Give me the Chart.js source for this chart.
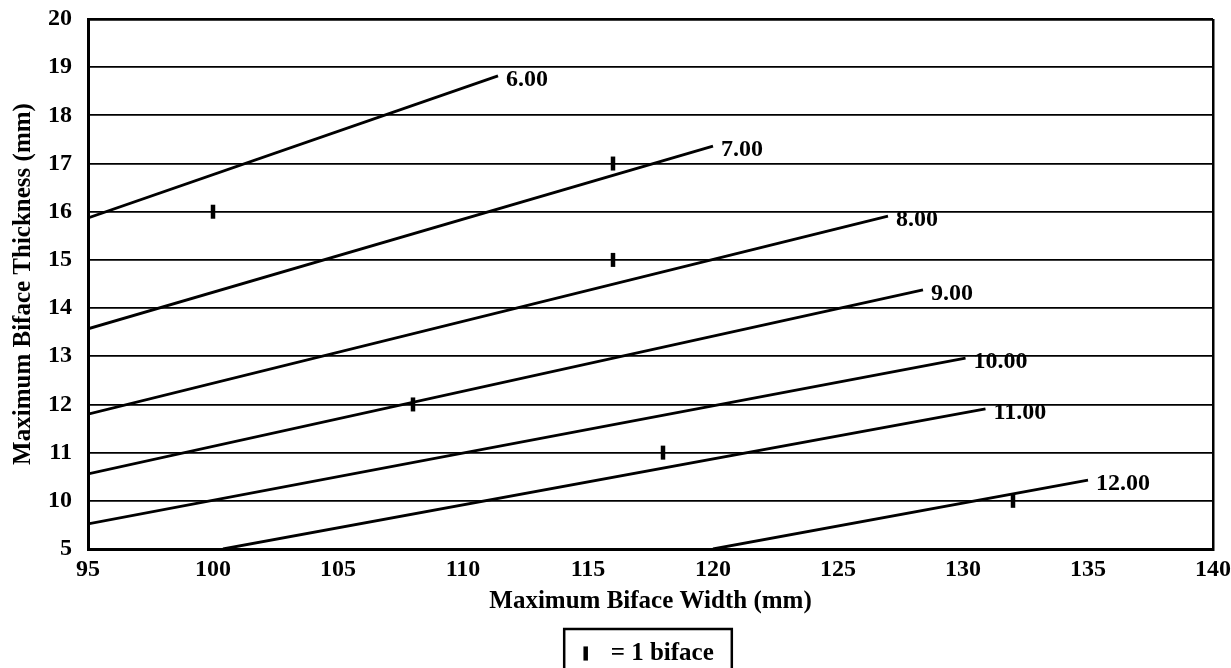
<!DOCTYPE html>
<html>
<head>
<meta charset="utf-8">
<script src="https://cdn.jsdelivr.net/npm/chart.js@4.4.1/dist/chart.umd.min.js"></script>
<style>
  html, body { margin: 0; padding: 0; background: #fff; overflow: hidden; }
  #wrap { width: 1231px; height: 668px; overflow: hidden; }
</style>
</head>
<body>
<div id="wrap"><canvas id="chart" width="1231" height="676"></canvas></div>
<script>
// width/thickness ratio lines (start and end points)
const ratioLabels = ['6.00', '7.00', '8.00', '9.00', '10.00', '11.00', '12.00'];
const lineStartX = [95, 95, 95, 95, 95, 100.4, 120];
const lineStartY = [15.87, 13.57, 11.80, 10.56, 9.52, 9, 9];
const lineEndX = [111.4, 120.0, 127.0, 128.4, 130.1, 130.9, 135];
const lineEndY = [18.82, 17.36, 15.91, 14.38, 12.96, 11.91, 10.43];

// individual bifaces
const bifaceWidth = [100, 116, 116, 108, 118, 132];
const bifaceThickness = [16, 17, 15, 12, 11, 10];

// y axis is broken: the bottom position (9) is labelled 5
const yTickLabels = { 9: '5' };

const serif = "'Liberation Serif', 'Times New Roman', serif";

const datasets = ratioLabels.map((lbl, i) => ({
    type: 'scatter',
    label: lbl,
    ratioLabel: lbl,
    data: [{ x: lineStartX[i], y: lineStartY[i] }, { x: lineEndX[i], y: lineEndY[i] }],
    showLine: true,
    borderColor: '#000',
    borderWidth: 2.8,
    pointRadius: 0,
    pointHoverRadius: 0
}));

datasets.push({
    type: 'scatter',
    label: '= 1 biface',
    data: bifaceWidth.map((w, i) => ({ x: w, y: bifaceThickness[i] })),
    pointStyle: 'line',
    rotation: 90,
    pointRadius: 7,
    borderWidth: 4.5,
    borderColor: '#000',
    backgroundColor: '#000'
});

// writes "6.00" etc. just past the end of each ratio line
const endLabels = {
    id: 'endLabels',
    afterDatasetsDraw(chart) {
        const ctx = chart.ctx;
        ctx.save();
        ctx.font = 'bold 24px ' + serif;
        ctx.fillStyle = '#000';
        ctx.textBaseline = 'middle';
        chart.data.datasets.forEach((ds, i) => {
            if (!ds.ratioLabel) return;
            const pts = chart.getDatasetMeta(i).data;
            const p = pts[pts.length - 1];
            ctx.fillText(ds.ratioLabel, p.x + 8, p.y + 4);
        });
        ctx.restore();
    }
};

// box round the legend (runs off the bottom like the original);
// the legend sits a little left of the plot's centre in the original
const legendBox = {
    id: 'legendBox',
    afterLayout(chart) {
        chart.legend.left -= 7;
        chart.legend.right -= 7;
    },
    afterDraw(chart) {
        const hb = chart.legend.legendHitBoxes[0];
        if (!hb) return;
        const ctx = chart.ctx;
        ctx.save();
        ctx.strokeStyle = '#000';
        ctx.lineWidth = 2.5;
        ctx.strokeRect(hb.left - 9, hb.top - 12, hb.width + 27, 100);
        ctx.restore();
    }
};

new Chart(document.getElementById('chart'), {
    type: 'scatter',
    data: { datasets: datasets },
    options: {
        responsive: false,
        animation: false,
        layout: { padding: { left: 4, right: 18, top: 19, bottom: 0 } },
        scales: {
            x: {
                type: 'linear',
                min: 95,
                max: 140,
                ticks: {
                    stepSize: 5,
                    color: '#000',
                    padding: 6,
                    font: { family: serif, size: 24, weight: 'bold' }
                },
                grid: {
                    drawTicks: false,
                    color: c => (c.tick && c.tick.value === 140) ? '#000' : 'rgba(0,0,0,0)',
                    lineWidth: 2.5
                },
                border: { color: '#000', width: 3 },
                title: {
                    display: true,
                    text: 'Maximum Biface Width (mm)',
                    color: '#000',
                    padding: { top: 4, bottom: 0 },
                    font: { family: serif, size: 25, weight: 'bold' }
                },
                afterFit: s => {
                    s.height = 68;
                    s.paddingLeft = 0;
                    s.paddingRight = 0;
                }
            },
            y: {
                type: 'linear',
                min: 9,
                max: 20,
                ticks: {
                    stepSize: 1,
                    color: '#000',
                    padding: 16,
                    font: { family: serif, size: 24, weight: 'bold' },
                    callback: v => yTickLabels[v] !== undefined ? yTickLabels[v] : v
                },
                grid: {
                    drawTicks: false,
                    color: '#000',
                    lineWidth: c => (c.tick && c.tick.value === 20) ? 2.8 : 1.8
                },
                border: { color: '#000', width: 3 },
                title: {
                    display: true,
                    text: 'Maximum Biface Thickness (mm)',
                    color: '#000',
                    padding: { top: 5, bottom: 4 },
                    font: { family: serif, size: 25, weight: 'bold' }
                },
                afterFit: s => {
                    s.width = 84;
                    s.paddingTop = 0;
                    s.paddingBottom = 0;
                }
            }
        },
        plugins: {
            tooltip: { enabled: false },
            legend: {
                position: 'bottom',
                fullSize: false,
                labels: {
                    usePointStyle: true,
                    boxWidth: 25,
                    boxHeight: 10,
                    color: '#000',
                    padding: 24,
                    font: { family: serif, size: 25, weight: 'bold' },
                    filter: item => item.text === '= 1 biface'
                }
            }
        }
    },
    plugins: [endLabels, legendBox]
});
</script>
</body>
</html>
